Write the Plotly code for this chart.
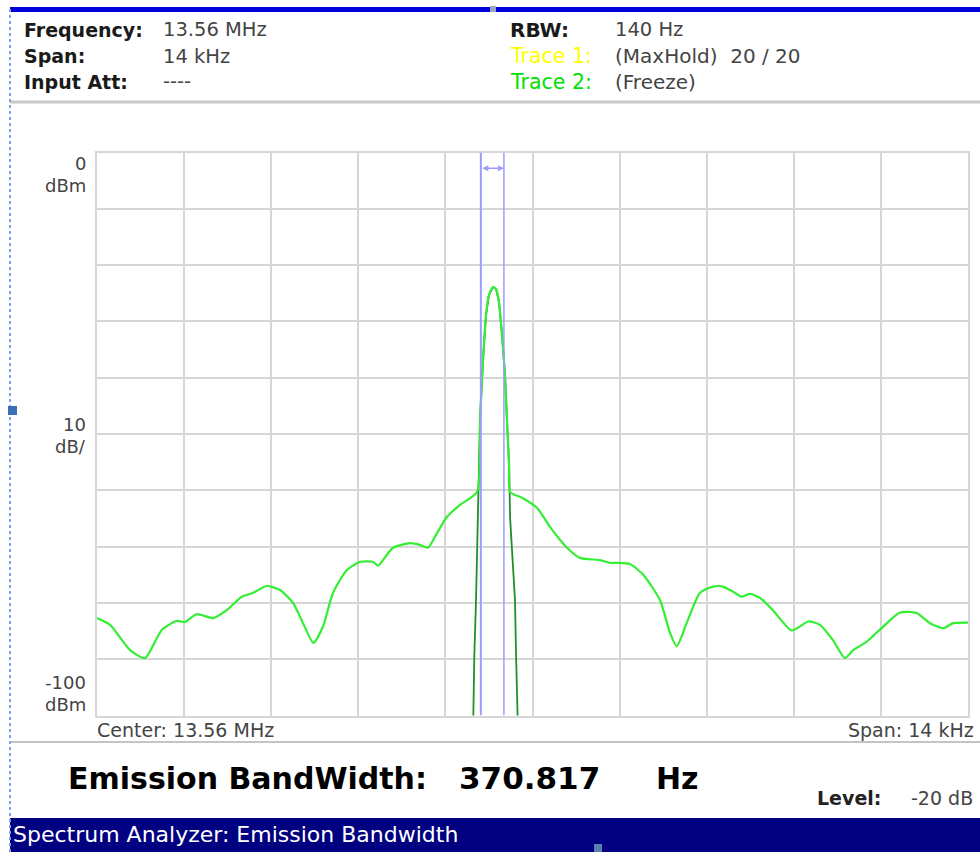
import plotly.graph_objects as go

# ---------------- data (frequency offset from 13.56 MHz in Hz, level in dBm) ----------------
freq_wide_hz = [-7000, -6785, -6464, -6223, -5955, -5714, -5581, -5393, -5126, -4911,
                -4670, -4484, -4269, -4055, -3846, -3686, -3520, -3365, -3204, -2984,
                -2770, -2562, -2481, -2401, -2240, -1967, -1807, -1678, -1534, -1373,
                -1164, -891, -843, -795, -747, -699, -634, -586, -538, -490,
                -442, -410, -377, -361, -153, 72, 281, 554, 763, 1084,
                1245, 1352, 1566, 1779, 2048, 2208, 2316, 2476, 2690, 2899,
                3059, 3220, 3360, 3493, 3654, 3862, 4163, 4429, 4617, 4826,
                5019, 5152, 5367, 5634, 5902, 6170, 6384, 6597, 6758, 7000]
level_wide_dbm = [-82.7, -83.9, -88.4, -89.8, -84.8, -83.2, -83.4, -82.0, -82.7, -81.3,
                  -78.9, -78.2, -77.0, -77.7, -80.0, -83.6, -87.1, -84.2, -78.2, -74.2,
                  -72.7, -72.7, -73.4, -72.4, -70.2, -69.4, -69.7, -70.2, -67.6, -64.7,
                  -62.6, -60.3, -47.5, -36.9, -28.9, -25.3, -23.9, -24.2, -26.6, -32.4,
                  -39.5, -47.5, -55.5, -60.3, -61.4, -63.1, -66.5, -70.2, -72.0, -72.4,
                  -72.9, -72.9, -73.1, -75.0, -79.5, -85.3, -87.7, -83.6, -78.2, -77.1,
                  -77.1, -78.0, -78.9, -78.4, -79.1, -81.3, -84.9, -83.3, -83.9, -86.6,
                  -89.8, -88.4, -86.9, -84.2, -81.7, -81.8, -83.6, -84.5, -83.6, -83.5]

freq_narrow_hz = [-951, -935, -907, -886, -859, -843, -795, -747, -699, -634,
                  -586, -538, -490, -442, -410, -373, -361, -318, -281, -265, -238]
level_narrow_dbm = [-100.5, -89.6, -79.5, -69.4, -60.5, -47.5, -36.9, -28.9, -25.3, -23.9,
                    -24.2, -26.6, -32.4, -39.5, -47.5, -56.4, -64.7, -73.6, -79.5, -88.9, -100.5]

obw_low_hz = -830
obw_width_hz = 370.817
span_hz = 14000
ref_level_dbm = 0
db_per_div = 10

header_left = [("Frequency:", "13.56 MHz"), ("Span:", "14 kHz"), ("Input Att:", "----")]
header_right = [("RBW:", "140 Hz", "#000000"), ("Trace 1:", "(MaxHold)  20 / 20", "#ffff00"),
                ("Trace 2:", "(Freeze)", "#00e000")]

# ---------------- layout helpers ----------------
W, H = 980, 852
def px(x):
    return x / W
def py(y):
    return 1 - y / H

FONT = "DejaVu Sans"
GRID = "#d6d6d6"

fig = go.Figure()
fig.add_trace(go.Scatter(x=freq_narrow_hz, y=level_narrow_dbm, mode="lines",
                         line=dict(color="#1f8f2a", width=1.8),
                         hoverinfo="skip", showlegend=False))
fig.add_trace(go.Scatter(x=freq_wide_hz, y=level_wide_dbm, mode="lines",
                         line=dict(color="#33ee33", width=2.2, shape="spline", smoothing=0.6),
                         hoverinfo="skip", showlegend=False))

obw_high_hz = obw_low_hz + obw_width_hz
shapes = []
for xv, w in [(obw_low_hz, 2), (obw_high_hz, 1.5)]:
    shapes.append(dict(type="line", xref="x", yref="y", x0=xv, x1=xv,
                       y0=ref_level_dbm - 10 * db_per_div, y1=ref_level_dbm,
                       line=dict(color="#9c9cff", width=w)))

# page decorations
shapes += [
    dict(type="rect", xref="paper", yref="paper", x0=px(10), x1=1, y0=py(12), y1=py(7),
         fillcolor="#0000dd", line=dict(width=0)),
    dict(type="line", xref="paper", yref="paper", x0=px(10), x1=1, y0=py(102), y1=py(102),
         line=dict(color="#c8c8c8", width=3)),
    dict(type="line", xref="paper", yref="paper", x0=px(10), x1=1, y0=py(742), y1=py(742),
         line=dict(color="#c4c4c4", width=2)),
    dict(type="rect", xref="paper", yref="paper", x0=px(10), x1=1, y0=0, y1=py(818),
         fillcolor="#000080", line=dict(width=0)),
    dict(type="line", xref="paper", yref="paper", x0=px(10), x1=px(10), y0=0, y1=py(8),
         line=dict(color="#7aa7e6", width=2, dash="dot")),
    dict(type="rect", xref="paper", yref="paper", x0=px(8), x1=px(17), y0=py(415), y1=py(406),
         fillcolor="#3a6fb5", line=dict(width=0)),
    dict(type="rect", xref="paper", yref="paper", x0=px(594), x1=px(602), y0=0, y1=py(844),
         fillcolor="#5a7fb0", line=dict(width=0)),
    dict(type="rect", xref="paper", yref="paper", x0=px(490), x1=px(496), y0=py(12), y1=py(6),
         fillcolor="#9aa6c0", line=dict(width=0)),
]

ann = []
def txt(x, y, s, size=18, color="#444444", anchor="left", bold=False, family=FONT):
    ann.append(dict(x=px(x), y=py(y), xref="paper", yref="paper", text=("<b>%s</b>" % s) if bold else s,
                    showarrow=False, xanchor=anchor, yanchor="middle",
                    font=dict(family=family, size=size, color=color)))

for i, (lab, val) in enumerate(header_left):
    yy = 30 + i * 26
    txt(22, yy, lab, size=19, color="#1a1a1a", bold=True)
    txt(161, yy, val, size=19.5, color="#444444")
for i, (lab, val, col) in enumerate(header_right):
    yy = 30 + i * 26
    if i == 0:
        txt(508, yy, lab, size=20, color="#1a1a1a", bold=True)
    else:
        txt(508, yy, lab, size=20.5, color=col)
    txt(613, yy, val, size=20 if i else 19.5, color="#444444")

# y scale labels
txt(88, 163, "0", size=18, anchor="right")
txt(88, 186, "dBm", size=18, anchor="right")
txt(88, 424, "10", size=18, anchor="right")
txt(88, 446, "dB/", size=18, anchor="right")
txt(88, 682, "-100", size=18, anchor="right")
txt(88, 704, "dBm", size=18, anchor="right")

txt(95, 730, "Center: 13.56 MHz", size=19)
txt(976, 730, "Span: 14 kHz", size=19, anchor="right")

txt(66, 778, "Emission BandWidth:", size=30, color="#000000", bold=True)
txt(457, 778, "370.817", size=31, color="#000000", bold=True)
txt(654, 778, "Hz", size=30, color="#000000", bold=True)
txt(815, 798, "Level:", size=19, color="#222222", bold=True)
txt(909, 798, "-20 dB", size=19, color="#444444")

txt(11, 834, "Spectrum Analyzer: Emission Bandwidth", size=22, color="#ffffff")

# OBW double arrow
ann.append(dict(x=obw_high_hz, y=-2.8, ax=obw_low_hz, ay=-2.8, xref="x", yref="y",
                axref="x", ayref="y", text="", showarrow=True, arrowhead=2,
                arrowside="end+start", arrowsize=0.8, arrowwidth=1.5, arrowcolor="#9c9cff"))

fig.update_layout(
    width=W, height=H, margin=dict(l=0, r=0, t=0, b=0),
    paper_bgcolor="white", plot_bgcolor="white",
    shapes=shapes, annotations=ann, showlegend=False,
    xaxis=dict(domain=[px(96.7), px(968.3)], range=[-span_hz / 2, span_hz / 2],
               dtick=span_hz / 10, tick0=-span_hz / 2, showticklabels=False, ticks="",
               showgrid=True, gridcolor=GRID, gridwidth=2, zeroline=False,
               showline=True, linecolor=GRID, linewidth=2, mirror=True, fixedrange=True),
    yaxis=dict(domain=[py(715.5), py(152.5)], range=[ref_level_dbm - 10 * db_per_div, ref_level_dbm],
               dtick=db_per_div, tick0=0, showticklabels=False, ticks="",
               showgrid=True, gridcolor=GRID, gridwidth=2, zeroline=False,
               showline=True, linecolor=GRID, linewidth=2, mirror=True, fixedrange=True),
)

fig.write_html("out.html", config={"displayModeBar": False},
               post_script="document.body.style.margin='0';document.body.style.padding='0';")
